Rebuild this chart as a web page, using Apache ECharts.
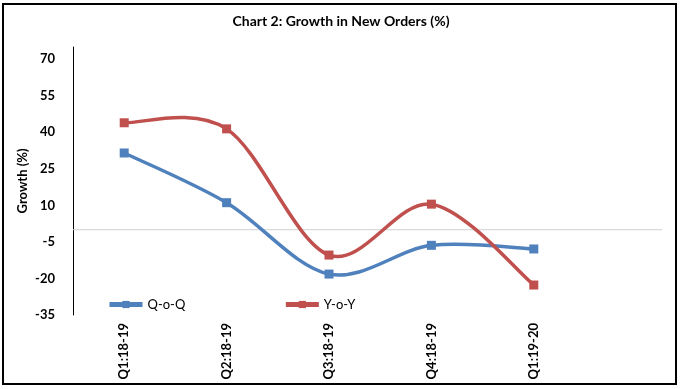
<!DOCTYPE html>
<html><head><meta charset="utf-8">
<script src="https://cdn.jsdelivr.net/npm/echarts@6/dist/echarts.min.js"></script>
<style>html,body{margin:0;padding:0;background:#fff}#c{width:682px;height:389px}</style>
</head><body><div id="c"></div>
<script>
const categories = ['Q1:18-19','Q2:18-19','Q3:18-19','Q4:18-19','Q1:19-20'];
const qoq = [31.5, 11.1, -18.2, -6.4, -7.9];
const yoy = [43.9, 41.4, -10.4, 10.5, -22.7];
const yTicks = [-35, -20, -5, 10, 25, 40, 55, 70];
const FONT = 'Lato';
const BLUE = '#4F81BD', RED = '#C0504D';

// Excel-like smoothed curve (Catmull-Rom), points placed via the library's scales
function curveSeries(name, arr, color, z) {
  return {
    name: name + ' curve', type: 'custom', z: z, silent: true,
    data: arr.map((v, i) => [i, v]),
    renderItem: function (params, api) {
      const i = params.dataIndex;
      if (i >= arr.length - 1) return null;
      const P = j => { const k = Math.max(0, Math.min(arr.length - 1, j)); return api.coord([k, arr[k]]); };
      const p0 = P(i - 1), p1 = P(i), p2 = P(i + 1), p3 = P(i + 2);
      const c1 = [p1[0] + (p2[0] - p0[0]) / 6, p1[1] + (p2[1] - p0[1]) / 6];
      const c2 = [p2[0] - (p3[0] - p1[0]) / 6, p2[1] - (p3[1] - p1[1]) / 6];
      return {
        type: 'bezierCurve',
        shape: {x1: p1[0], y1: p1[1], cpx1: c1[0], cpy1: c1[1], cpx2: c2[0], cpy2: c2[1], x2: p2[0], y2: p2[1]},
        style: {stroke: color, lineWidth: 3.5, fill: null, lineCap: 'round'}
      };
    }
  };
}

const chart = echarts.init(document.getElementById('c'));
const option = {
  animation: false,
  backgroundColor: '#fff',
  textStyle: {fontFamily: FONT},
  title: {text: 'Chart 2: Growth in New Orders (%)', left: 'center', top: 9,
    textStyle: {fontFamily: FONT, fontSize: 14, fontWeight: 'bold', color: '#000'}},
  legend: {left: 102, top: 293, itemWidth: 33, itemHeight: 9, itemGap: 98,
    textStyle: {fontFamily: FONT, fontSize: 13, color: '#000'},
    lineStyle: {width: 5, opacity: 1},
    data: ['Q-o-Q', 'Y-o-Y']},
  grid: {left: 73, top: 47, width: 512, bottom: 389 - 315, containLabel: false},
  xAxis: {type: 'category', data: categories, boundaryGap: true,
    axisLine: {show: false}, axisTick: {show: false},
    axisLabel: {rotate: 90, margin: 8, fontFamily: FONT, fontSize: 13, fontWeight: 'bold', color: '#000'}},
  yAxis: {type: 'value', min: -35, max: 75,
    name: 'Growth (%)', nameLocation: 'middle', nameGap: 44, nameRotate: 90, nameMoveOverlap: false,
    nameTextStyle: {fontFamily: FONT, fontSize: 13, fontWeight: 'bold', color: '#000'},
    axisLine: {show: true, lineStyle: {color: '#000', width: 1}},
    axisTick: {show: false},
    splitLine: {show: false},
    axisLabel: {customValues: yTicks, fontFamily: FONT, fontSize: 13, fontWeight: 'bold', color: '#000', margin: 18}},
  series: [
    curveSeries('Q-o-Q', qoq, BLUE, 2),
    curveSeries('Y-o-Y', yoy, RED, 3),
    {name: 'Q-o-Q', type: 'line', data: qoq, symbol: 'rect', symbolSize: 9,
      itemStyle: {color: BLUE}, lineStyle: {color: BLUE, width: 3.5, opacity: 0}, z: 4},
    {name: 'Y-o-Y', type: 'line', data: yoy, symbol: 'rect', symbolSize: 9,
      itemStyle: {color: RED}, lineStyle: {color: RED, width: 3.5, opacity: 0}, z: 5}
  ]
};
chart.setOption(option);
const zeroY = chart.convertToPixel({yAxisIndex: 0}, 0);
chart.setOption({graphic: [
  {type: 'line', shape: {x1: 73, y1: zeroY, x2: 662, y2: zeroY}, style: {stroke: '#d0d0d0', lineWidth: 1}, z: 1, silent: true},
  {type: 'rect', shape: {x: 3, y: 4, width: 673, height: 380}, style: {fill: 'none', stroke: '#000', lineWidth: 2}, silent: true}
]});
</script></body></html>
